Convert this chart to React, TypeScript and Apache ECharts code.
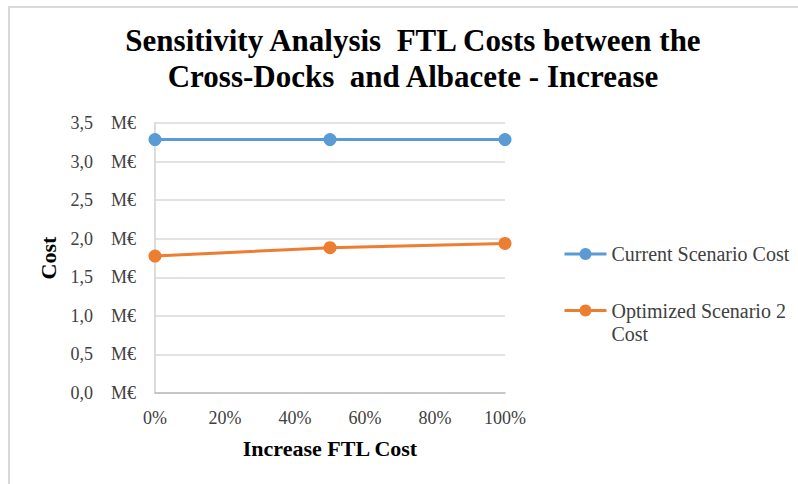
import React, { useEffect, useRef } from "react";
import * as echarts from "echarts";

const titleLines = ["Sensitivity Analysis  FTL Costs between the", "Cross-Docks  and Albacete - Increase"];
const xValues = [0, 50, 100];
const currentCost = [3.285, 3.285, 3.285];
const optimizedCost = [1.775, 1.883, 1.939];
const seriesNames = ["Current Scenario Cost", "Optimized Scenario 2 Cost"];
const legendLabels = ["Current Scenario Cost", "\u00a0\nOptimized Scenario 2\nCost"];
const xAxisName = "Increase FTL Cost";
const yAxisName = "Cost";

const FONT = "'Liberation Serif', 'Times New Roman', serif";

export default function App() {
  const ref = useRef<HTMLDivElement>(null);
  useEffect(() => {
    if (!ref.current) return;
    const chart = echarts.init(ref.current, undefined, { renderer: "svg" });
    chart.setOption({
      animation: false,
      backgroundColor: "#ffffff",
      title: {
        text: titleLines.join("\n"),
        left: 408,
        textAlign: "center",
        top: 17,
        textStyle: {
          fontFamily: FONT,
          fontWeight: "bold",
          fontSize: 31,
          lineHeight: 36,
          color: "#000000",
        },
      },
      graphic: [
        { type: "rect", shape: { x: 8, y: 6, width: 2, height: 480 }, style: { fill: "#d9d9d9" } },
        { type: "rect", shape: { x: 8, y: 6, width: 800, height: 2 }, style: { fill: "#d9d9d9" } },
      ],
      legend: [
        {
          data: [seriesNames[0]],
          left: 563,
          top: 244,
          padding: 0,
          itemWidth: 42,
          itemHeight: 15,
          lineStyle: { width: 3 },
          formatter: () => legendLabels[0],
          textStyle: { fontFamily: FONT, fontSize: 20, color: "#404040" },
        },
        {
          data: [seriesNames[1]],
          left: 563,
          top: 276,
          padding: 0,
          itemWidth: 42,
          itemHeight: 15,
          lineStyle: { width: 3 },
          formatter: () => legendLabels[1],
          textStyle: {
            fontFamily: FONT,
            fontSize: 20,
            lineHeight: 23,
            color: "#404040",
          },
        },
      ],
      grid: { left: 155, right: 293, top: 123, bottom: 91, containLabel: false },
      xAxis: {
        type: "value",
        min: 0,
        max: 100,
        interval: 20,
        name: xAxisName,
        nameLocation: "middle",
        nameGap: 44,
        nameTextStyle: { fontFamily: FONT, fontWeight: "bold", fontSize: 22, color: "#000000" },
        axisLine: { show: true, lineStyle: { color: "#bfbfbf", width: 1.5 } },
        axisTick: { show: false },
        splitLine: { show: false },
        axisLabel: {
          formatter: (v: number) => `${v}%`,
          fontFamily: FONT,
          fontSize: 18,
          color: "#404040",
          margin: 16,
        },
      },
      yAxis: {
        type: "value",
        min: 0,
        max: 3.5,
        interval: 0.5,
        name: yAxisName,
        nameLocation: "middle",
        nameGap: 96,
        nameTextStyle: { fontFamily: FONT, fontWeight: "bold", fontSize: 22, color: "#000000" },
        axisLine: { show: true, lineStyle: { color: "#d0d0d0", width: 1.5 } },
        axisTick: { show: false },
        splitLine: { show: true, lineStyle: { color: "#d9d9d9", width: 1.5 } },
        axisLabel: {
          formatter: (v: number) => v.toFixed(1).replace(".", ",") + "\u00a0\u00a0\u00a0\u00a0M€",
          fontFamily: FONT,
          fontSize: 18,
          color: "#404040",
          margin: 19,
        },
      },
      series: [
        {
          name: seriesNames[0],
          type: "line",
          data: xValues.map((x, i) => [x, currentCost[i]]),
          symbol: "circle",
          symbolSize: 13,
          lineStyle: { color: "#5b9bd5", width: 3 },
          itemStyle: { color: "#5b9bd5" },
        },
        {
          name: seriesNames[1],
          type: "line",
          data: xValues.map((x, i) => [x, optimizedCost[i]]),
          symbol: "circle",
          symbolSize: 13,
          lineStyle: { color: "#ed7d31", width: 3 },
          itemStyle: { color: "#ed7d31" },
        },
      ],
    });
    return () => chart.dispose();
  }, []);
  return (
    <div
      ref={ref}
      style={{ position: "fixed", left: 0, top: 0, width: 798, height: 484 }}
    />
  );
}
